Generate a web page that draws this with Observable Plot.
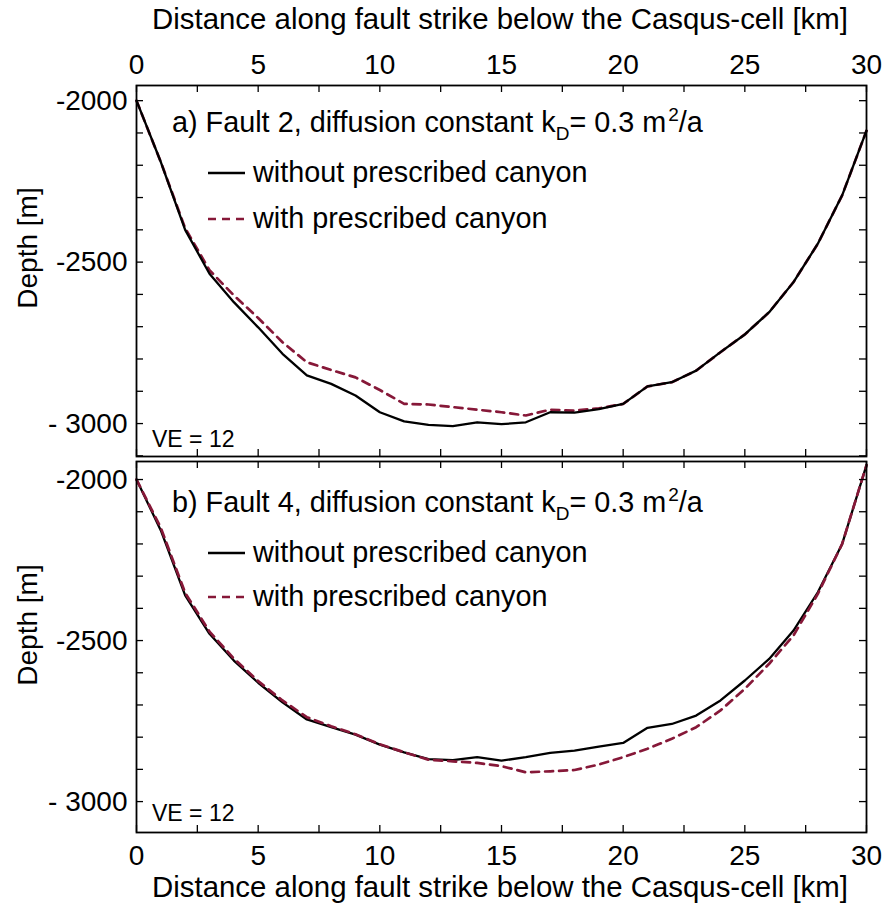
<!DOCTYPE html>
<html><head><meta charset="utf-8">
<script src="https://cdn.jsdelivr.net/npm/d3@7"></script>
<script src="https://cdn.jsdelivr.net/npm/@observablehq/plot@0.6"></script>
<style>
body{margin:0;background:#fff;}
#wrap{position:relative;width:887px;height:909px;font-family:"Liberation Sans",Arial,sans-serif;}
#wrap > svg{position:absolute;left:0;}
</style></head><body><div id="wrap"></div>
<script>
// ---- data ----
const distanceKm = [0,1,2,3,4,5,6,7,8,9,10,11,12,13,14,15,16,17,18,19,20,21,22,23,24,25,26,27,28,29,30];
const fault2Without = [-2000,-2190,-2400,-2536,-2624,-2702,-2784,-2851,-2877,-2913,-2965,-2993,-3004,-3008,-2996,-3002,-2996,-2965,-2966,-2955,-2939,-2885,-2872,-2836,-2779,-2724,-2655,-2562,-2443,-2293,-2093];
const fault2With    = [-2000,-2190,-2395,-2525,-2603,-2673,-2748,-2810,-2834,-2857,-2896,-2939,-2941,-2949,-2957,-2965,-2975,-2957,-2960,-2953,-2939,-2885,-2872,-2836,-2779,-2724,-2655,-2562,-2443,-2293,-2093];
const fault4Without = [-2000,-2158,-2360,-2479,-2562,-2631,-2692,-2745,-2769,-2792,-2823,-2847,-2868,-2871,-2862,-2873,-2862,-2849,-2842,-2829,-2818,-2771,-2759,-2733,-2686,-2624,-2557,-2469,-2350,-2200,-1955];
const fault4With    = [-2000,-2150,-2352,-2472,-2556,-2626,-2686,-2738,-2766,-2791,-2822,-2847,-2870,-2875,-2880,-2890,-2909,-2906,-2902,-2885,-2862,-2836,-2805,-2769,-2717,-2650,-2572,-2484,-2355,-2200,-1955];

const xMinorTicks = [0,2.5,5,7.5,10,12.5,15,17.5,20,22.5,25,27.5,30];
const xLabelTicks = [0,5,10,15,20,25,30];
const yMinorTicks = [-3100,-3000,-2900,-2800,-2700,-2600,-2500,-2400,-2300,-2200,-2100,-2000];
const yLabelTicks = [-3000,-2500,-2000];
const yTickLabels = ["- 3000","-2500","-2000"];

const xAxisTitle = "Distance along fault strike below the Casqus-cell [km]";
const yAxisTitle = "Depth [m]";
const legendWithout = "without prescribed canyon";
const legendWith = "with prescribed canyon";
const veText = "VE = 12";

const WIDTH = 887, ML = 136, MR = 21;
const FONT = "Liberation Sans, Arial, Helvetica, sans-serif";
const RED = "#861838";
const FS = 28.8;

function panel({without, withC, yDomain, height, marginTop, marginBottom, xAnchor, dashedOnTop}) {
  const innerH = height - marginTop - marginBottom;
  const innerW = WIDTH - ML - MR;
  const rowsWithout = distanceKm.map((d, i) => ({x: d, y: without[i]}));
  const rowsWith = distanceKm.map((d, i) => ({x: d, y: withC[i]}));
  const yTicks = yMinorTicks.filter(v => v >= yDomain[0] && v <= yDomain[1]);
  const lineSolid = Plot.line(rowsWithout, {x: "x", y: "y", stroke: "#000", strokeWidth: 2.3});
  const lineDash = Plot.line(rowsWith, {x: "x", y: "y", stroke: RED, strokeWidth: 2.7, strokeDasharray: "8,6"});
  const labelMap = new Map(yLabelTicks.map((v, i) => [v, yTickLabels[i]]));
  return Plot.plot({
    width: WIDTH, height, marginLeft: ML, marginRight: MR, marginTop, marginBottom,
    style: {fontFamily: FONT, fontSize: "28px", background: "transparent", color: "#000", overflow: "visible"},
    x: {domain: [0, 30]},
    y: {domain: yDomain},
    marks: [
      ...(dashedOnTop ? [lineSolid, lineDash] : [lineDash, lineSolid]),
      Plot.tickX(xMinorTicks, {x: d => d, insetBottom: innerH - 7, stroke: "#000", strokeWidth: 1.3}),
      Plot.tickX(xMinorTicks, {x: d => d, insetTop: innerH - 7, stroke: "#000", strokeWidth: 1.3}),
      Plot.tickY(yTicks, {y: d => d, insetRight: innerW - 7, stroke: "#000", strokeWidth: 1.3}),
      Plot.tickY(yTicks, {y: d => d, insetLeft: innerW - 7, stroke: "#000", strokeWidth: 1.3}),
      Plot.frame({stroke: "#000", strokeWidth: 1.8}),
      Plot.axisX(xLabelTicks, {anchor: xAnchor, tickSize: 0, tickPadding: xAnchor === "top" ? 12 : 13, tickFormat: d => String(d), label: null, fontSize: 28}),
      Plot.axisY(yLabelTicks, {anchor: "left", tickSize: 0, tickPadding: 9, tickFormat: d => labelMap.get(d), label: null, fontSize: 28})
    ]
  });
}

const wrap = document.getElementById("wrap");
const topPlot = panel({without: fault2Without, withC: fault2With, yDomain: [-3102, -1953], height: 458, marginTop: 85, marginBottom: 2, xAnchor: "top", dashedOnTop: false});
topPlot.style.top = "0px";
wrap.appendChild(topPlot);
const botPlot = panel({without: fault4Without, withC: fault4With, yDomain: [-3096, -1944], height: 451, marginTop: 3, marginBottom: 77, xAnchor: "bottom", dashedOnTop: true});
botPlot.style.top = "458px";
wrap.appendChild(botPlot);

// ---- overlay: axis titles, panel titles, legends ----
const ov = d3.select(wrap).append("svg")
  .attr("width", WIDTH).attr("height", 909)
  .style("position", "absolute").style("left", "0px").style("top", "0px")
  .attr("font-family", FONT).attr("fill", "#000");

ov.append("text").attr("x", 500).attr("y", 29).attr("text-anchor", "middle").attr("font-size", FS + 0.6).text(xAxisTitle);
ov.append("text").attr("x", 500).attr("y", 897).attr("text-anchor", "middle").attr("font-size", FS + 0.6).text(xAxisTitle);
[[27, 248], [27, 625]].forEach(([x, y]) => {
  ov.append("text").attr("transform", `translate(${x},${y}) rotate(-90)`).attr("text-anchor", "middle")
    .attr("dominant-baseline", "central").attr("font-size", 28).text(yAxisTitle);
});

const panels = [
  {label: "a) Fault 2", titleY: 132, solidY: 173, dashY: 219, veY: 447},
  {label: "b) Fault 4", titleY: 512, solidY: 553, dashY: 597, veY: 821}
];
panels.forEach(p => {
  const t = ov.append("text").attr("x", 172).attr("y", p.titleY).attr("font-size", FS);
  t.append("tspan").text(p.label + ", diffusion constant k");
  t.append("tspan").attr("font-size", 19).attr("dy", 8).text("D");
  t.append("tspan").attr("dy", -8).text("= 0.3 m");
  t.append("tspan").attr("font-size", 19).attr("dy", -11).attr("dx", 2).text("2");
  t.append("tspan").attr("dy", 11).text("/a");
  ov.append("line").attr("x1", 208).attr("x2", 245).attr("y1", p.solidY).attr("y2", p.solidY)
    .attr("stroke", "#000").attr("stroke-width", 2.3);
  ov.append("text").attr("x", 253).attr("y", p.solidY + 9).attr("font-size", FS).text(legendWithout);
  ov.append("line").attr("x1", 208).attr("x2", 245).attr("y1", p.dashY).attr("y2", p.dashY)
    .attr("stroke", RED).attr("stroke-width", 2.7).attr("stroke-dasharray", "8,6");
  ov.append("text").attr("x", 253).attr("y", p.dashY + 9).attr("font-size", FS).text(legendWith);
  ov.append("text").attr("x", 152).attr("y", p.veY).attr("font-size", 23).text(veText);
});
</script></body></html>
